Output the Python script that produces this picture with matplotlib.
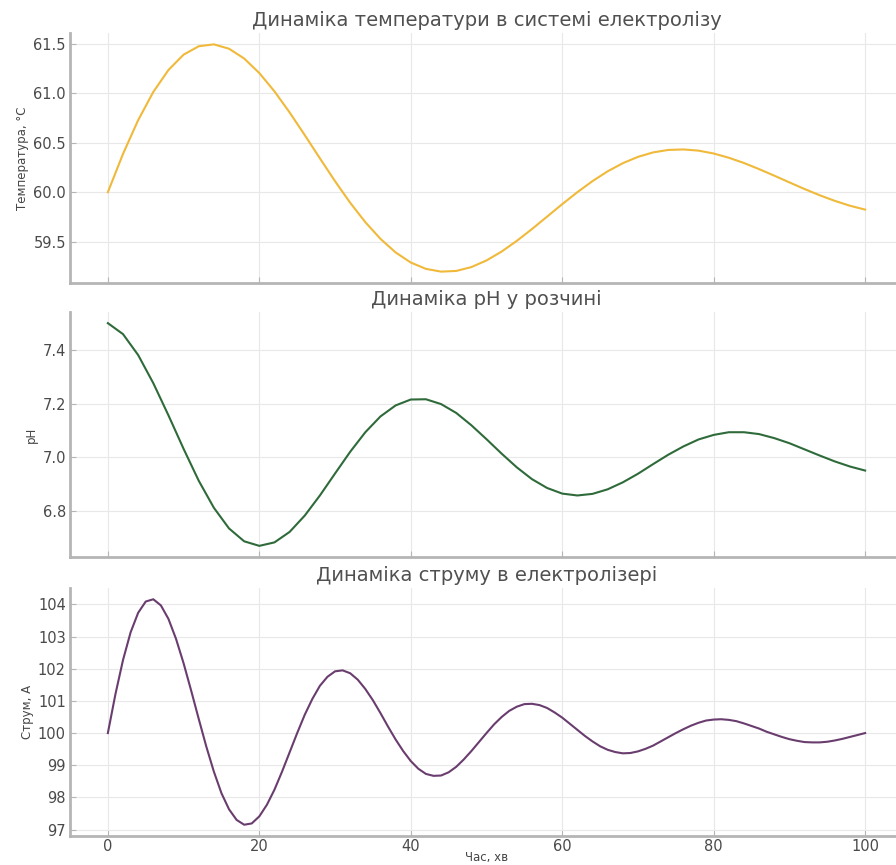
import matplotlib
matplotlib.use("Agg")
import matplotlib.pyplot as plt

# Time axis (minutes)
time_temp = list(range(0, 101, 2))
time_ph = list(range(0, 101, 2))
time_cur = list(range(0, 101, 1))

temperature = [60.000, 60.387, 60.728, 61.013, 61.235, 61.390, 61.475, 61.494, 61.450, 61.351,
               61.204, 61.019, 60.806, 60.577, 60.342, 60.111, 59.893, 59.697, 59.528, 59.391,
               59.289, 59.225, 59.197, 59.204, 59.243, 59.310, 59.400, 59.508, 59.627, 59.753,
               59.879, 60.000, 60.112, 60.211, 60.293, 60.357, 60.402, 60.427, 60.432, 60.420,
               60.391, 60.348, 60.295, 60.233, 60.167, 60.099, 60.032, 59.969, 59.912, 59.863,
               59.824]

ph_values = [7.500, 7.459, 7.381, 7.276, 7.156, 7.031, 6.912, 6.811, 6.734, 6.686,
             6.669, 6.682, 6.721, 6.782, 6.857, 6.939, 7.020, 7.093, 7.152, 7.193,
             7.215, 7.216, 7.198, 7.165, 7.119, 7.067, 7.013, 6.962, 6.918, 6.885,
             6.864, 6.857, 6.863, 6.880, 6.906, 6.938, 6.974, 7.009, 7.040, 7.066,
             7.083, 7.093, 7.093, 7.086, 7.071, 7.052, 7.029, 7.006, 6.984, 6.965,
             6.950]

current = [100.00, 101.21, 102.27, 103.13, 103.74, 104.09, 104.16, 103.97, 103.55, 102.93,
           102.17, 101.32, 100.44, 99.58, 98.80, 98.13, 97.63, 97.30, 97.15, 97.19,
           97.41, 97.77, 98.24, 98.80, 99.40, 100.00, 100.57, 101.06, 101.47, 101.75,
           101.92, 101.95, 101.86, 101.66, 101.37, 101.02, 100.62, 100.20, 99.80, 99.44,
           99.13, 98.89, 98.73, 98.67, 98.68, 98.78, 98.95, 99.18, 99.44, 99.72,
           100.00, 100.27, 100.50, 100.69, 100.82, 100.90, 100.91, 100.87, 100.78, 100.64,
           100.48, 100.29, 100.10, 99.91, 99.74, 99.59, 99.48, 99.41, 99.37, 99.38,
           99.43, 99.51, 99.61, 99.74, 99.87, 100.00, 100.12, 100.23, 100.32, 100.39,
           100.42, 100.43, 100.41, 100.37, 100.30, 100.22, 100.14, 100.04, 99.96, 99.88,
           99.81, 99.76, 99.72, 99.71, 99.71, 99.73, 99.77, 99.82, 99.88, 99.94,
           100.00]

titles = ['Динаміка температури в системі електролізу',
          'Динаміка pH у розчині',
          'Динаміка струму в електролізері']
ylabels = ['Температура, °C', 'pH', 'Струм, А']
xlabel = 'Час, хв'
colors = ['#f0b93a', '#2f6b3a', '#6a3d6f']

plt.rcParams['font.family'] = ['DejaVu Sans']
fig = plt.figure(figsize=(8.96, 8.65), dpi=100)
L, W = 70/896, 833/896
pos = [(1-283/865, 250/865), (1-557/865, 245/865), (1-836/865, 248/865)]
axes = [fig.add_axes([L, b, W, h]) for b, h in pos]

series = [(time_temp, temperature), (time_ph, ph_values), (time_cur, current)]
for i, (ax, (x, y), c) in enumerate(zip(axes, series, colors)):
    ax.plot(x, y, color=c, lw=1.5)
    ax.set_xlim(-5, 105)
    ax.grid(True, color='#e8e8e8', lw=0.8)
    ax.set_axisbelow(True)
    for s in ['top', 'right']:
        ax.spines[s].set_visible(False)
    for s in ['left', 'bottom']:
        ax.spines[s].set_color('#b5b5b5')
        ax.spines[s].set_linewidth(2)
    ax.tick_params(direction='in', length=4, color='#b5b5b5', labelsize=10.5,
                   labelcolor='#4a4a4a', pad=3)
    ax.tick_params(axis='x', pad=2)
    ax.set_title(titles[i], fontsize=14, color='#505050', pad=5)
    ax.set_ylabel(ylabels[i], fontsize=8.5, color='#454545', labelpad=3)
    if i < 2:
        ax.tick_params(labelbottom=False)
axes[2].set_xlabel(xlabel, fontsize=8.5, color='#454545')
axes[2].xaxis.set_label_coords(0.5, -0.062)

fig.savefig("out.png", dpi=100)
